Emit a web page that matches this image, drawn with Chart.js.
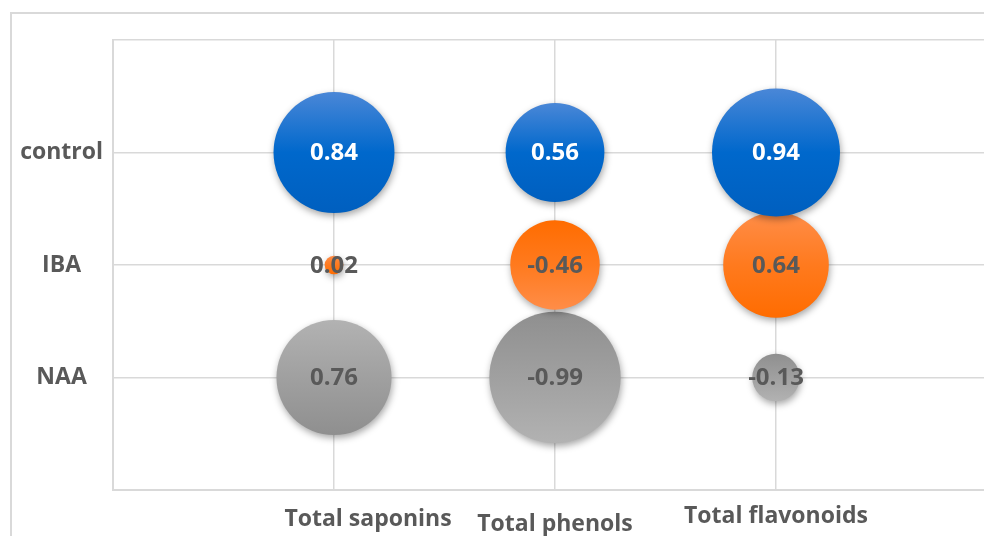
<!DOCTYPE html>
<html>
<head>
<meta charset="utf-8">
<script src="https://cdn.jsdelivr.net/npm/chart.js@4"></script>
<style>
  html, body { margin: 0; padding: 0; background: #fff; overflow: hidden; width: 984px; height: 536px; }
  #frame { position: absolute; left: 10px; top: 12px; width: 1100px; height: 600px; border: 2px solid #d9d9d9; }
  #bubbles { position: absolute; left: 0; top: 0; }
</style>
</head>
<body>
<div id="frame"></div>
<canvas id="bubbles" width="1010" height="536"></canvas>
<script>
// Categories and values
const treatments = ['NAA', 'IBA', 'control'];          // bottom to top (y = 1, 2, 3)
const traits = ['Total saponins', 'Total phenols', 'Total flavonoids'];
const controlValues = [0.84, 0.56, 0.94];
const ibaValues = [0.02, -0.46, 0.64];
const naaValues = [0.76, -0.99, -0.13];

// Style constants
const radiusScale = 66;
const textGray = '#595959';
const gridGray = '#d9d9d9';
const traitLabelShift = [[34, 29], [0, 34], [0, 26]];
const palettes = {
  control: { light: '#4a87d7', mid: '#0068cc', dark: '#005fbf', text: '#ffffff' },
  IBA: { light: '#ff8d48', mid: '#ff7a1e', dark: '#ff6c00', text: textGray },
  NAA: { light: '#b2b2b2', mid: '#a0a0a0', dark: '#8f8f8f', text: textGray }
};

function toPoints(values, row) {
  return values.map((v, i) => ({ x: i + 1, y: row, r: radiusScale * Math.sqrt(Math.abs(v)), v: v }));
}

function bubbleFill(name) {
  const p = palettes[name];
  return (c) => {
    const chart = c.chart;
    if (!chart.chartArea || !c.raw) return p.mid;
    const cy = chart.scales.y.getPixelForValue(c.raw.y);
    const r = Math.max(c.raw.r, 1);
    if (!isFinite(cy)) return p.mid;
    const g = chart.ctx.createLinearGradient(0, cy - r, 0, cy + r);
    const top = c.raw.v >= 0 ? p.light : p.dark;
    const bottom = c.raw.v >= 0 ? p.dark : p.light;
    g.addColorStop(0, top);
    g.addColorStop(0.5, p.mid);
    g.addColorStop(1, bottom);
    return g;
  };
}

function makeDataset(name, values, row) {
  return {
    label: name,
    data: toPoints(values, row),
    backgroundColor: bubbleFill(name),
    borderWidth: 0,
    textColor: palettes[name].text
  };
}

// Soft shadow under the bubbles
const shadowPlugin = {
  id: 'shadow',
  beforeDatasetsDraw(chart) {
    const ctx = chart.ctx;
    ctx.save();
    ctx.shadowColor = 'rgba(0,0,0,0.35)';
    ctx.shadowBlur = 7;
    ctx.shadowOffsetX = 1;
    ctx.shadowOffsetY = 3;
  },
  afterDatasetsDraw(chart) {
    chart.ctx.restore();
  }
};

// Value labels in the bubbles
const valueLabelPlugin = {
  id: 'valueLabels',
  afterDatasetsDraw(chart) {
    const ctx = chart.ctx;
    ctx.save();
    ctx.font = 'bold 24px "Open Sans"';
    ctx.textAlign = 'center';
    ctx.textBaseline = 'middle';
    chart.data.datasets.forEach((ds, i) => {
      chart.getDatasetMeta(i).data.forEach((el, j) => {
        ctx.fillStyle = ds.textColor;
        ctx.fillText(ds.data[j].v.toFixed(2), el.x, el.y + 1);
      });
    });
    ctx.restore();
  }
};

// Category labels under the plot
const traitLabelPlugin = {
  id: 'traitLabels',
  afterDraw(chart) {
    const ctx = chart.ctx;
    const xs = chart.scales.x;
    ctx.save();
    ctx.font = 'bold 23px "Open Sans"';
    ctx.fillStyle = textGray;
    ctx.textAlign = 'center';
    ctx.textBaseline = 'middle';
    traits.forEach((t, i) => {
      const [dx, dy] = traitLabelShift[i];
      ctx.fillText(t, xs.getPixelForValue(i + 1) + dx, chart.chartArea.bottom + dy);
    });
    ctx.restore();
  }
};

new Chart(document.getElementById('bubbles'), {
  type: 'bubble',
  data: {
    datasets: [
      makeDataset('control', controlValues, 3),
      makeDataset('IBA', ibaValues, 2),
      makeDataset('NAA', naaValues, 1)
    ]
  },
  options: {
    responsive: false,
    animation: false,
    devicePixelRatio: 1,
    events: [],
    layout: { autoPadding: false, padding: { left: 0, top: 40, right: 13, bottom: 0 } },
    plugins: { legend: { display: false }, tooltip: { enabled: false } },
    scales: {
      x: {
        type: 'linear', min: 0, max: 4,
        afterFit: (s) => { s.height = 46; },
        ticks: { display: false, stepSize: 1 },
        grid: {
          color: (c) => (c.tick && c.tick.value >= 4 ? 'rgba(0,0,0,0)' : gridGray),
          lineWidth: 1.5,
          drawTicks: false
        },
        border: { color: gridGray, width: 2 }
      },
      y: {
        type: 'linear', min: 0, max: 4,
        afterFit: (s) => { s.width = 113; },
        ticks: {
          stepSize: 1,
          crossAlign: 'center',
          padding: 10,
          color: textGray,
          font: { family: '"Open Sans"', size: 23, weight: 'bold' },
          callback: (v) => treatments[v - 1] || ''
        },
        grid: { color: gridGray, lineWidth: 1.5, drawTicks: false },
        border: { color: gridGray, width: 2 }
      }
    }
  },
  plugins: [shadowPlugin, valueLabelPlugin, traitLabelPlugin]
});
</script>
</body>
</html>
